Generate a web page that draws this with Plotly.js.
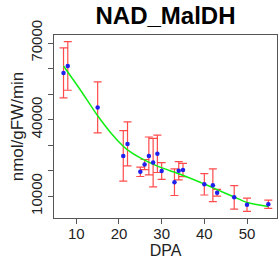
<!DOCTYPE html>
<html>
<head>
<meta charset="utf-8">
<script src="https://cdn.plot.ly/plotly-3.0.1.min.js"></script>
<style>html,body{margin:0;padding:0;background:#fff;}#chart{width:278px;height:270px;}</style>
</head>
<body>
<div id="chart"></div>
<script>
// Measured points (DPA vs activity)
const dpa = [7, 8, 15, 21, 22, 25, 26, 27, 28, 29, 30, 33, 34, 35, 40, 42, 43, 47, 50, 55];
const activity = [58300, 61000, 44800, 25800, 30500, 19600, 22400, 25800, 23200, 26600, 19900, 15500, 20000, 20300, 14700, 14300, 11400, 9600, 6700, 6900];
const errorSize = [9800, 9500, 10000, 9900, 8600, 1850, 2000, 7400, 9500, 7300, 3300, 5200, 3600, 2600, 4200, 6400, 1300, 4600, 2600, 1600];

// Smoothed fit curve
const fitX = [7, 11, 15, 18, 21, 22, 25, 29, 34, 39, 43, 47, 50, 55];
const fitY = [61000, 51500, 41500, 35000, 29600, 28200, 25000, 21800, 18800, 15500, 12600, 9700, 7600, 6000];

// Axis ticks
const yTickVals = [10000, 20000, 30000, 40000, 50000, 60000, 70000];
const yTickText = ["10000", "", "", "40000", "", "", "70000"];
const xTickVals = [10, 20, 30, 40, 50];
const xTickText = ["10", "20", "30", "40", "50"];

const axisColor = '#555555';
const font = 'Liberation Sans, Arial, sans-serif';

const traces = [
  {
    x: dpa, y: activity, type: 'scatter', mode: 'markers',
    marker: {color: 'rgba(0,0,0,0)', size: 1},
    error_y: {type: 'data', array: errorSize, visible: true, color: 'rgba(255,30,30,0.8)', thickness: 1.2, width: 4},
    hoverinfo: 'skip', showlegend: false
  },
  {
    x: fitX, y: fitY, type: 'scatter', mode: 'lines',
    line: {color: '#11ee11', width: 1.5, shape: 'spline', smoothing: 0.8},
    showlegend: false
  },
  {
    x: dpa, y: activity, type: 'scatter', mode: 'markers',
    marker: {color: '#2020ee', size: 4.5, symbol: 'circle'},
    showlegend: false
  }
];

const layout = {
  width: 278, height: 270,
  margin: {l: 54, r: 1, t: 35, b: 52, pad: 0},
  paper_bgcolor: '#ffffff', plot_bgcolor: '#ffffff',
  showlegend: false,
  title: {
    text: 'NAD_MalDH',
    font: {family: font, size: 24, weight: 'bold', color: '#000000'},
    xref: 'paper', x: 0.5, xanchor: 'center',
    yref: 'container', y: 1 - 16/270, yanchor: 'middle'
  },
  xaxis: {
    range: [4.77, 57.03],
    tickmode: 'array', tickvals: xTickVals, ticktext: xTickText,
    ticks: 'outside', ticklen: 5, tickwidth: 1, tickcolor: axisColor,
    ticklabelstandoff: -3,
    showline: true, linecolor: axisColor, linewidth: 1, mirror: true,
    showgrid: false, zeroline: false,
    tickfont: {family: font, size: 15, color: '#222222'},
    title: {text: 'DPA', font: {family: font, size: 16, color: '#222222'}, standoff: 2}
  },
  yaxis: {
    range: [1500, 73130],
    tickmode: 'array', tickvals: yTickVals, ticktext: yTickText,
    tickangle: -90,
    ticks: 'outside', ticklen: 5, tickwidth: 1, tickcolor: axisColor,
    showline: true, linecolor: axisColor, linewidth: 1, mirror: true,
    showgrid: false, zeroline: false,
    tickfont: {family: font, size: 15, color: '#222222'},
    title: {text: 'nmol/gFW/min', font: {family: font, size: 17, color: '#222222'}, standoff: 0}
  }
};

Plotly.newPlot('chart', traces, layout, {displayModeBar: false, staticPlot: true});
</script>
</body>
</html>
